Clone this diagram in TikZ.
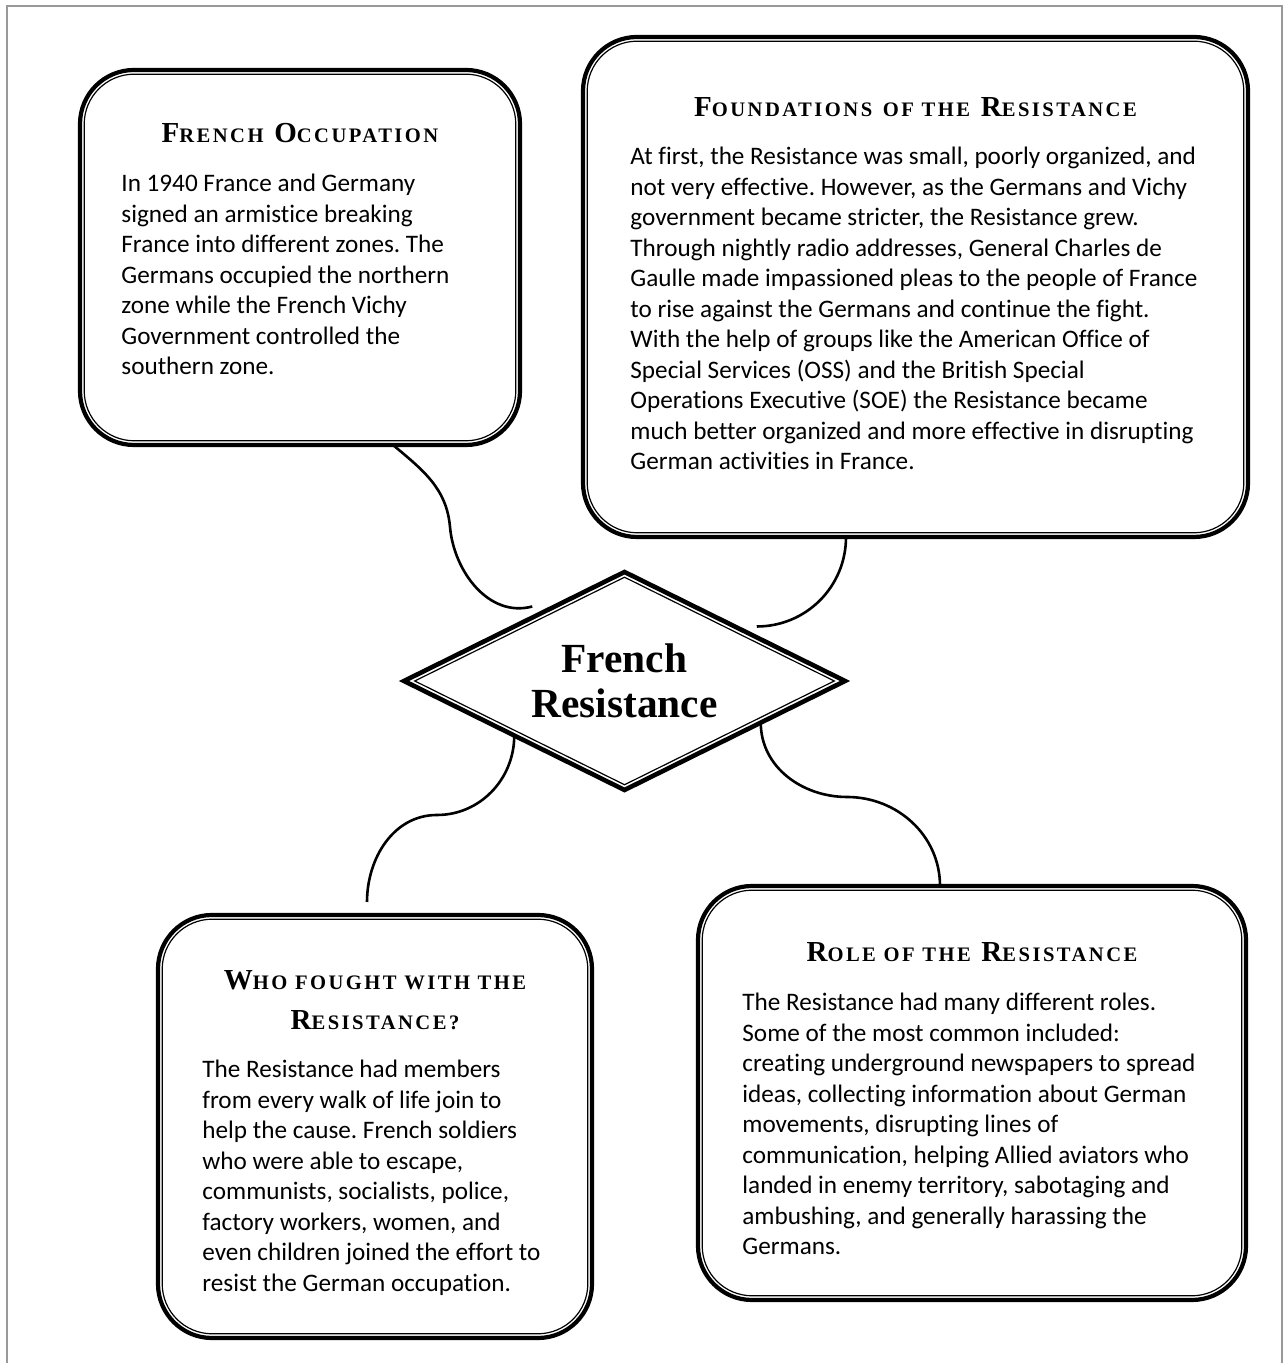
\documentclass[tikz,border=0pt]{standalone}
\usepackage{fontspec}
\setmainfont[Ligatures=NoCommon]{Carlito}
\newfontfamily\headfont[LetterSpace=12]{Liberation Serif}
\newfontfamily\titlefont{Liberation Serif}
\usetikzlibrary{calc,shapes,positioning}
\frenchspacing

% fake small caps for the box headings
\newcommand{\hcap}[2]{{\fontsize{14.5}{20}\selectfont #1}{\fontsize{10.3}{20}\selectfont #2}}

\tikzset{
  topic/.style={draw, line width=2.1pt, rounded corners=27pt, outer sep=0pt},
  topicin/.style={draw, line width=0.6pt, rounded corners=25pt},
  heading/.style={font=\headfont\bfseries\fontsize{14.5}{20}\selectfont, align=center, inner sep=0pt},
  bodytext/.style={font=\fontsize{12.6}{15.25}\selectfont, align=left, inner sep=0pt},
  link/.style={line width=1.3pt},
}

\begin{document}
\begin{tikzpicture}[x=0.5pt,y=0.5pt]
\useasboundingbox (0,0) rectangle (1286,1363);
% page edge
\draw[gray!80, line width=1pt] (7,0) -- (7,1357) -- (1282,1357) -- (1282,0);

% boxes
\node[topic, minimum width=220pt, minimum height=187.5pt] (occ) at (300,1105.5) {};
\node[topic, minimum width=332.5pt, minimum height=250pt] (found) at (915.5,1076) {};
\node[topic, minimum width=217pt, minimum height=211.5pt] (who) at (375,236.5) {};
\node[topic, minimum width=274pt, minimum height=207pt] (role) at (972,270) {};
\foreach \n in {occ,found,who,role}
  \draw[topicin] ([shift={(2.1pt,-2.1pt)}]\n.north west) rectangle ([shift={(-2.1pt,2.1pt)}]\n.south east);

% headings (base = last line)
\node[heading, anchor=base] (occhead) at ([yshift=-36.5pt]occ.north)
  {\hcap{F}{RENCH} \hcap{O}{CCUPATION}};
\node[heading, anchor=base] (foundhead) at ([yshift=-40pt]found.north)
  {\hcap{F}{OUNDATIONS} \hcap{}{OF THE} \hcap{R}{ESISTANCE}};
\node[heading, anchor=base] (whohead) at ([yshift=-57.5pt]who.north)
  {\hcap{W}{HO FOUGHT WITH THE}\\\hcap{R}{ESISTANCE?}};
\node[heading, anchor=base] (rolehead) at ([yshift=-38pt]role.north)
  {\hcap{R}{OLE OF THE} \hcap{R}{ESISTANCE}};

% texts (base = last line)
\node[bodytext, anchor=base west] (occtext) at ([shift={(20.5pt,-152.5pt)}]occ.north west)
  {In 1940 France and Germany\\
   signed an armistice breaking\\
   France into different zones. The\\
   Germans occupied the northern\\
   zone while the French Vichy\\
   Government controlled the\\
   southern zone.};
\node[bodytext, anchor=base west] (foundtext) at ([shift={(23.5pt,-216.5pt)}]found.north west)
  {At first, the Resistance was small, poorly organized, and\\
   not very effective. However, as the Germans and Vichy\\
   government became stricter, the Resistance grew.\\
   Through nightly radio addresses, General Charles de\\
   Gaulle made impassioned pleas to the people of France\\
   to rise against the Germans and continue the fight.\\
   With the help of groups like the American Office of\\
   Special Services (OSS) and the British Special\\
   Operations Executive (SOE) the Resistance became\\
   much better organized and more effective in disrupting\\
   German activities in France.};
\node[bodytext, anchor=base west] (whotext) at ([shift={(22pt,-188.25pt)}]who.north west)
  {The Resistance had members\\
   from every walk of life join to\\
   help the cause. French soldiers\\
   who were able to escape,\\
   communists, socialists, police,\\
   factory workers, women, and\\
   even children joined the effort to\\
   resist the German occupation.};
\node[bodytext, anchor=base west] (roletext) at ([shift={(22pt,-184.5pt)}]role.north west)
  {The Resistance had many different roles.\\
   Some of the most common included:\\
   creating underground newspapers to spread\\
   ideas, collecting information about German\\
   movements, disrupting lines of\\
   communication, helping Allied aviators who\\
   landed in enemy territory, sabotaging and\\
   ambushing, and generally harassing the\\
   Germans.};

% centre diamond
\node[diamond, draw, line width=2.3pt, outer sep=0pt, inner sep=0pt, aspect=2,
      minimum width=220.5pt, minimum height=109pt, align=center,
      font=\titlefont\bfseries\fontsize{20.7}{22.5}\selectfont] (res) at (624.5,682)
  {French\\Resistance};
\node[diamond, draw, line width=0.6pt, inner sep=0pt, aspect=2,
      minimum width=210pt, minimum height=104pt] (resin) at (res.center) {};

% connectors
\coordinate (c1a) at ([xshift=46.5pt]occ.south);
\coordinate (c1m) at (450,836);
\coordinate (c1b) at ([shift={(9pt,10pt)}]res.north west);
\draw[link] (c1a) to[out=-40,in=95] (c1m) to[out=-85,in=195] (c1b);

\coordinate (c2a) at ([xshift=-34.75pt]found.south);
\coordinate (c2b) at ([xshift=11pt]res.north east);
\draw[link] (c2a) to[out=-90,in=0] (c2b);

\coordinate (c3m) at (437,548);
\coordinate (c3b) at ([shift={(-4pt,6.5pt)}]who.north);
\draw[link] (res.south west) to[out=-90,in=0] (c3m) to[out=180,in=90] (c3b);

\coordinate (c4m) at (847,566);
\coordinate (c4b) at ([xshift=-16pt]role.north);
\draw[link] (res.-17) to[out=-90,in=180] (c4m) to[out=0,in=90] (c4b);
\end{tikzpicture}
\end{document}
